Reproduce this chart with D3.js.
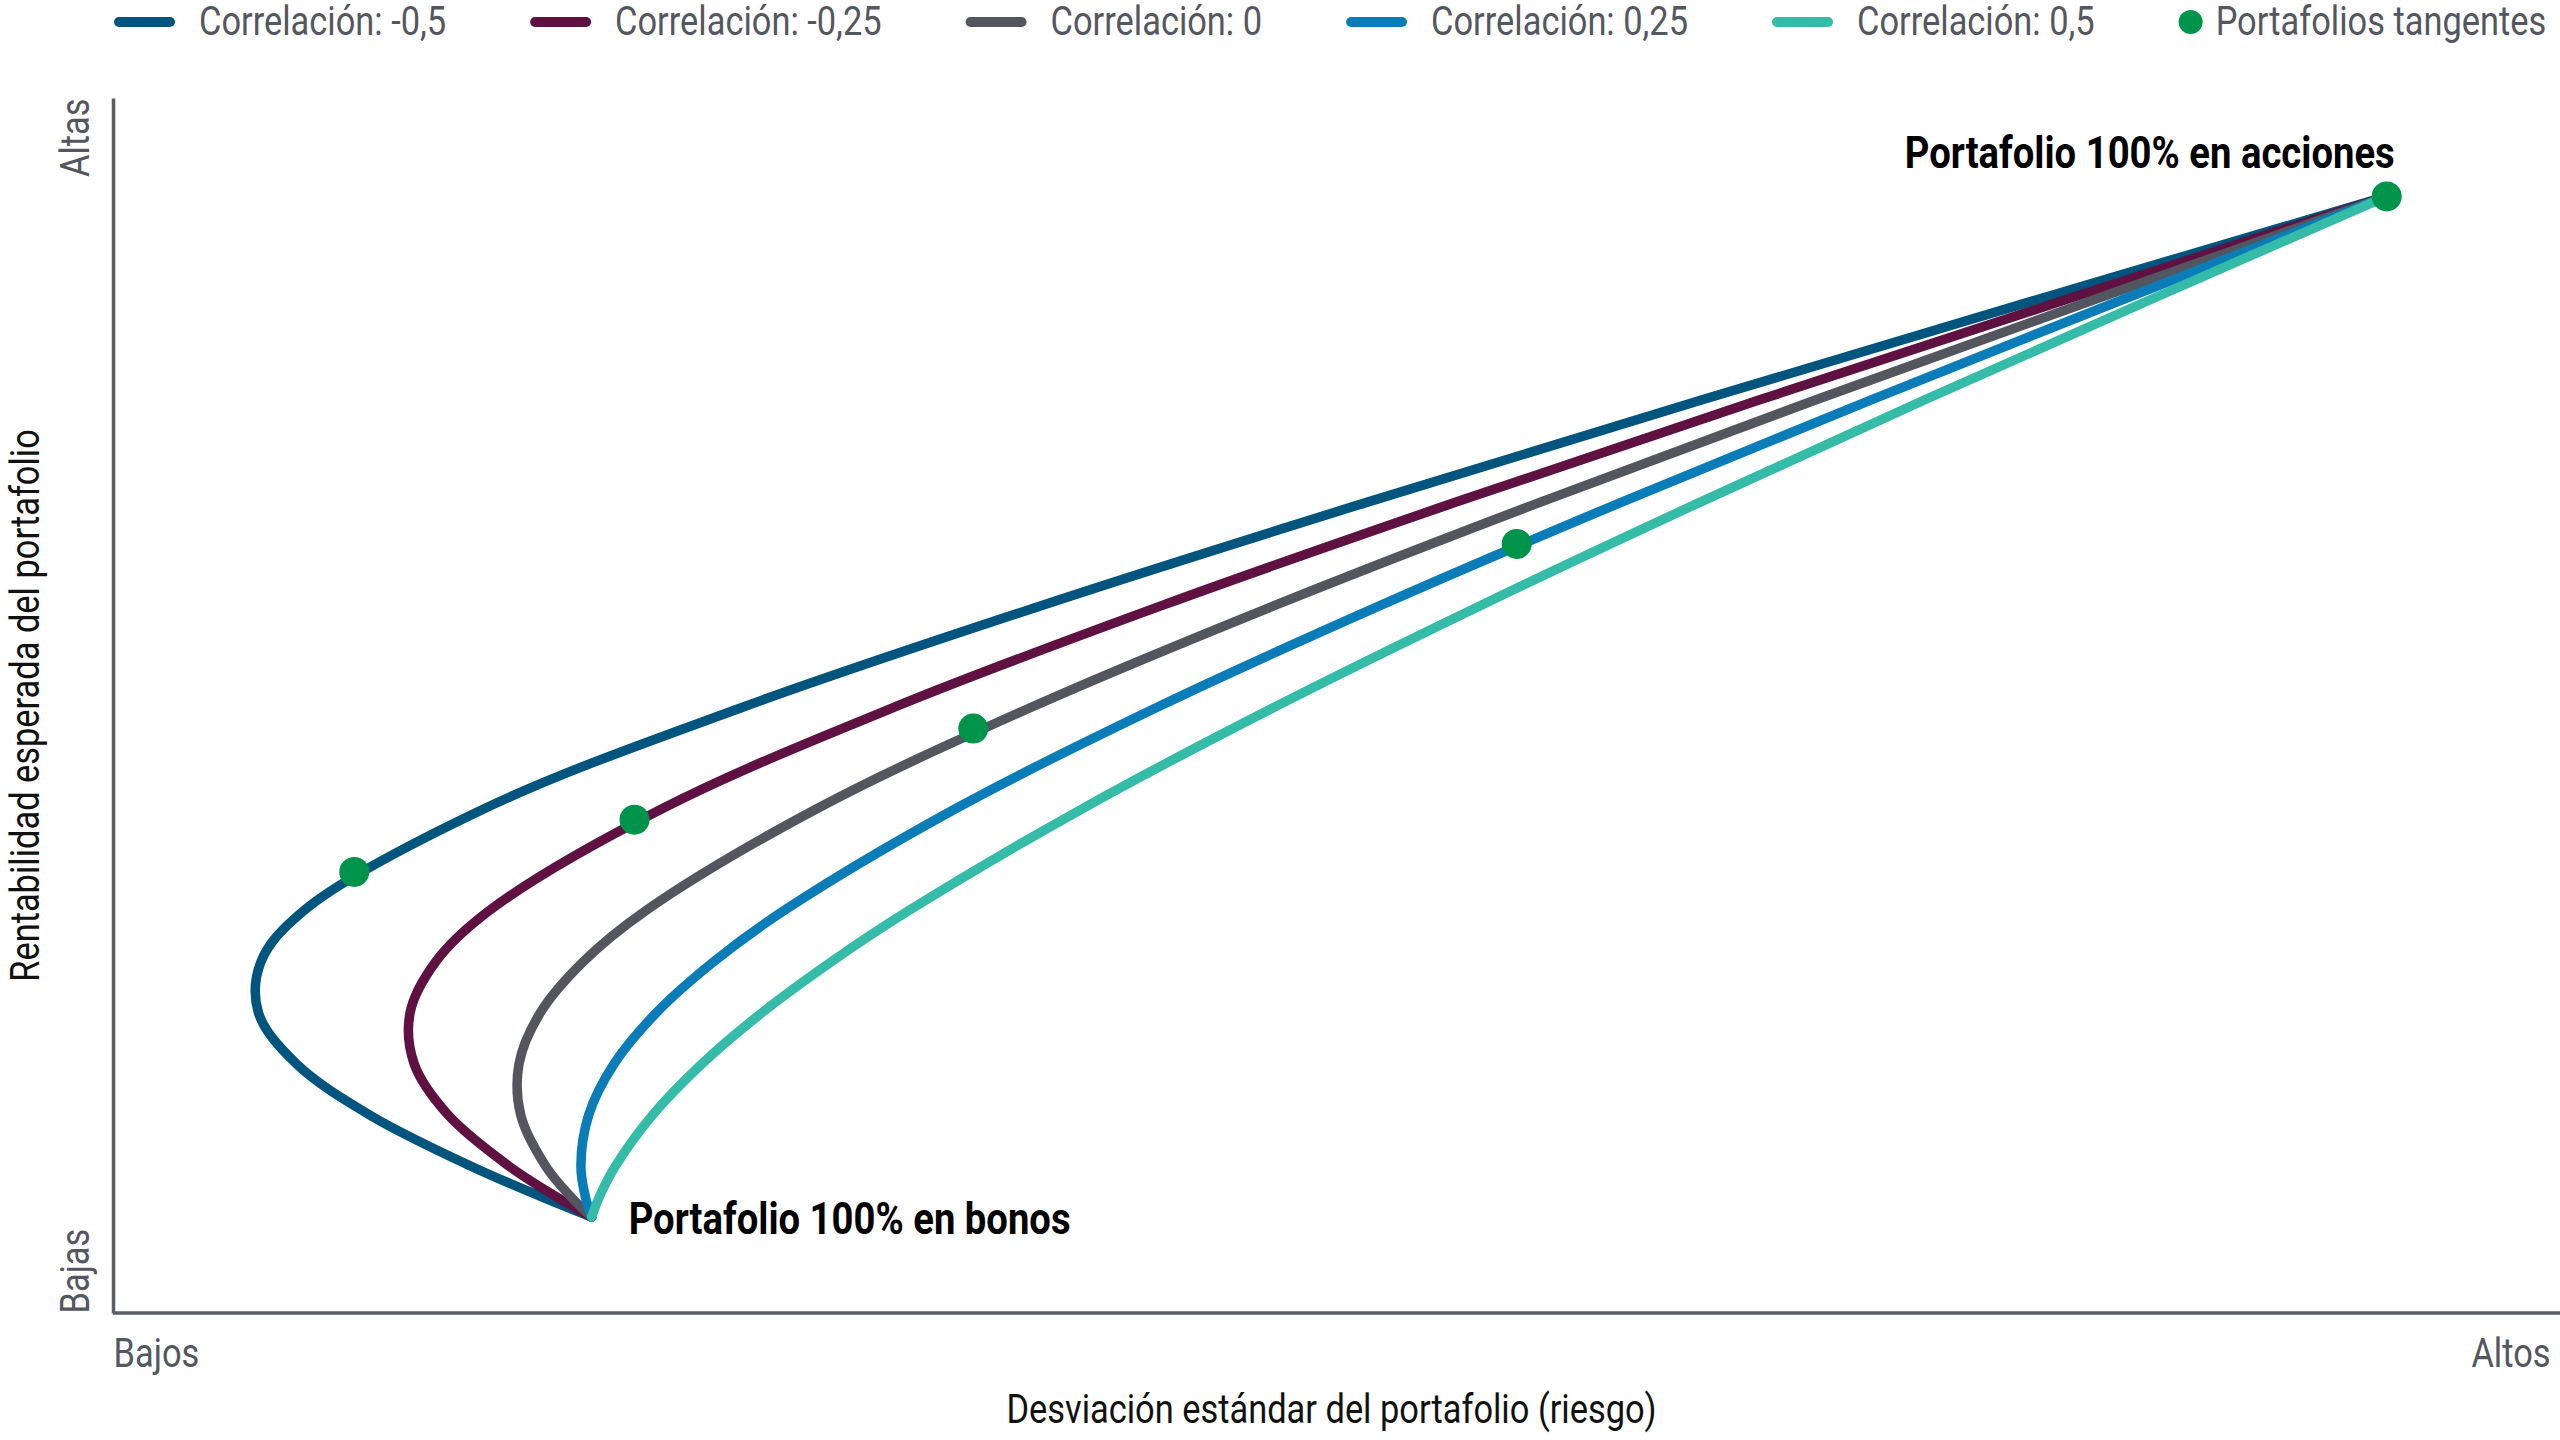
<!DOCTYPE html>
<html>
<head>
<meta charset="utf-8">
<script src="https://cdn.jsdelivr.net/npm/d3@7"></script>
<style>
  html, body { margin: 0; padding: 0; background: #ffffff; }
  svg { display: block; }
  text { font-family: Roboto, "Noto Sans", sans-serif; }
</style>
</head>
<body>
<svg id="chart" width="2560" height="1440"></svg>
<script>
// ---------------- DATA ----------------
const correlations = ["-0,5", "-0,25", "0", "0,25", "0,5"];
const seriesLabels = ["Correlación: -0,5", "Correlación: -0,25", "Correlación: 0", "Correlación: 0,25", "Correlación: 0,5"];
const tangentLabel = "Portafolios tangentes";

// expected return (shared vertical values, 0-100 scale), from 100% bonds to 100% stocks
const expectedReturn = [7.9, 9.58, 12.1, 16.3, 20.5, 24.7, 28.9, 33.1, 41.5, 49.9, 58.3, 66.7, 75.1, 83.5, 91.9];

// portfolio risk (standard deviation, 0-100 scale) for each correlation
const riskCorrNeg050 = [19.64, 17.57, 14.67, 10.53, 7.53, 5.97, 6.07, 7.82, 15.23, 25.89, 38.21, 51.41, 65.11, 79.11, 93.30];
const riskCorrNeg025 = [19.64, 18.18, 16.24, 13.75, 12.36, 12.19, 13.24, 15.43, 22.53, 32.11, 43.14, 55.05, 67.48, 80.27, 93.30];
const riskCorr000    = [19.64, 18.78, 17.75, 16.73, 16.66, 17.53, 19.29, 21.85, 28.88, 37.73, 47.75, 58.52, 69.80, 81.43, 93.30];
const riskCorrPos025 = [19.64, 19.38, 19.20, 19.52, 20.56, 22.29, 24.64, 27.52, 34.57, 42.89, 52.08, 61.86, 72.07, 82.58, 93.30];
const riskCorrPos050 = [19.64, 19.96, 20.62, 22.14, 24.16, 26.62, 29.47, 32.64, 39.77, 47.69, 56.19, 65.09, 74.28, 83.71, 93.30];

// tangent portfolios (one per correlation -0,5 .. 0,25) + 100% stocks portfolio
const tangentRisk   = [9.9, 21.4, 35.3, 57.6, 93.3];
const tangentReturn = [36.3, 40.6, 48.1, 63.3, 91.9];

// anchor portfolios
const bondPortfolio  = { label: "Portafolio 100% en bonos",    risk: 19.64, ret: 7.9 };
const stockPortfolio = { label: "Portafolio 100% en acciones", risk: 93.3,  ret: 91.9 };

// axis texts
const xTickValues = [0, 100];
const xTickLabels = ["Bajos", "Altos"];
const yTickValues = [0, 100];
const yTickLabels = ["Bajas", "Altas"];
const xTitle = "Desviación estándar del portafolio (riesgo)";
const yTitle = "Rentabilidad esperada del portafolio";

// ---------------- STYLE ----------------
const colors = ["#00557f", "#5f1242", "#53565f", "#0a7db8", "#34bca9"];
const dotColor = "#00944a";
const textGray = "#54575f";
const axisGray = "#5b5e66";
const CONDENSE = 0.86;

const riskSeries = [riskCorrNeg050, riskCorrNeg025, riskCorr000, riskCorrPos025, riskCorrPos050];
const series = correlations.map((c, i) => ({
  name: seriesLabels[i],
  color: colors[i],
  values: expectedReturn.map((r, j) => ({ risk: riskSeries[i][j], ret: r }))
}));

const svg = d3.select("#chart");
svg.append("rect").attr("width", 2560).attr("height", 1440).attr("fill", "#fff");

const x = d3.scaleLinear().domain([0, 100]).range([113, 2550]);
const y = d3.scaleLinear().domain([0, 100]).range([1313, 98]);

function condense(sel, f) {
  sel.each(function () {
    const L = this.getComputedTextLength();
    this.setAttribute("textLength", L * f);
    this.setAttribute("lengthAdjust", "spacingAndGlyphs");
  });
  return sel;
}

// ---------------- AXES ----------------
const gx = svg.append("g")
  .attr("transform", `translate(0,${y(0)})`)
  .call(d3.axisBottom(x).tickValues(xTickValues).tickFormat((d, i) => xTickLabels[i]).tickSize(0).tickSizeOuter(0).tickPadding(26));
gx.select(".domain").attr("stroke", axisGray).attr("stroke-width", 3.5).attr("d", `M${x(0)},0H2560`);
gx.selectAll(".tick text")
  .attr("font-size", 40).attr("fill", textGray).attr("font-family", "Roboto")
  .attr("text-anchor", (d, i) => i === 0 ? "start" : "end");
condense(gx.selectAll(".tick text"), CONDENSE);

const gy = svg.append("g")
  .attr("transform", `translate(${x(0)},0)`)
  .call(d3.axisLeft(y).tickValues(yTickValues).tickFormat((d, i) => yTickLabels[i]).tickSize(0).tickSizeOuter(0));
gy.select(".domain").attr("stroke", axisGray).attr("stroke-width", 3.5);
gy.selectAll(".tick text")
  .attr("font-size", 40).attr("fill", textGray).attr("font-family", "Roboto")
  .attr("x", null).attr("dy", "0.35em")
  .attr("transform", "translate(-38,0) rotate(-90)")
  .attr("text-anchor", (d, i) => i === 0 ? "start" : "end");
condense(gy.selectAll(".tick text"), CONDENSE);

const xt = svg.append("text")
  .attr("x", (x(0) + x(100)) / 2).attr("y", 1423)
  .attr("text-anchor", "middle").attr("font-size", 40).attr("fill", "#111")
  .text(xTitle);
condense(xt, CONDENSE);

const yt = svg.append("text")
  .attr("transform", `translate(25,${(y(0) + y(100)) / 2}) rotate(-90)`)
  .attr("dy", "0.35em")
  .attr("text-anchor", "middle").attr("font-size", 40).attr("fill", "#111")
  .text(yTitle);
condense(yt, CONDENSE);

// ---------------- LINES ----------------
const line = d3.line()
  .x(d => x(d.risk))
  .y(d => y(d.ret))
  .curve(d3.curveCatmullRom.alpha(0.5));

svg.append("g").selectAll("path")
  .data(series)
  .join("path")
  .attr("d", d => line(d.values))
  .attr("fill", "none")
  .attr("stroke", d => d.color)
  .attr("stroke-width", 9.5)
  .attr("stroke-linecap", "round")
  .attr("stroke-linejoin", "round");

// ---------------- DOTS ----------------
svg.append("g").selectAll("circle")
  .data(tangentRisk.map((r, i) => ({ risk: r, ret: tangentReturn[i] })))
  .join("circle")
  .attr("cx", d => x(d.risk))
  .attr("cy", d => y(d.ret))
  .attr("r", 15)
  .attr("fill", dotColor);

// ---------------- ANNOTATIONS ----------------
const a1 = svg.append("text")
  .attr("x", x(bondPortfolio.risk) + 37).attr("y", y(bondPortfolio.ret) + 17)
  .attr("font-size", 45).attr("font-weight", 700).attr("fill", "#000")
  .text(bondPortfolio.label);
condense(a1, 0.85);

const a2 = svg.append("text")
  .attr("x", x(stockPortfolio.risk) + 8).attr("y", y(stockPortfolio.ret) - 28)
  .attr("text-anchor", "end")
  .attr("font-size", 45).attr("font-weight", 700).attr("fill", "#000")
  .text(stockPortfolio.label);
condense(a2, 0.85);

// ---------------- LEGEND ----------------
const legend = svg.append("g");
let lx = 114;
const ly = 35;
series.forEach(s => {
  legend.append("line")
    .attr("x1", lx + 5).attr("x2", lx + 56)
    .attr("y1", ly - 13).attr("y2", ly - 13)
    .attr("stroke", s.color).attr("stroke-width", 10).attr("stroke-linecap", "round");
  const t = legend.append("text")
    .attr("x", lx + 85).attr("y", ly)
    .attr("font-size", 40).attr("fill", textGray)
    .text(s.name);
  condense(t, CONDENSE);
  lx = lx + 85 + (+t.attr("textLength")) + 84;
});
legend.append("circle")
  .attr("cx", lx + 12).attr("cy", ly - 13)
  .attr("r", 12)
  .attr("fill", dotColor);
const tl = legend.append("text")
  .attr("x", lx + 37).attr("y", ly)
  .attr("font-size", 40).attr("fill", textGray)
  .text(tangentLabel);
condense(tl, CONDENSE);
</script>
</body>
</html>
